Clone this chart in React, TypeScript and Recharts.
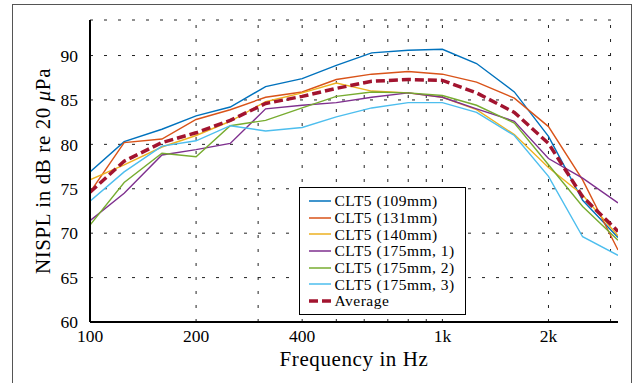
import { LineChart, Line, XAxis, YAxis, CartesianGrid, ReferenceLine } from "recharts";

// third-octave band centre frequencies (Hz)
const freqs = [100, 125, 160, 200, 250, 315, 400, 500, 630, 800, 1000, 1250, 1600, 2000, 2500, 3150];

// NISPL in dB
const clt109 = [76.9, 80.3, 81.7, 83.2, 84.2, 86.5, 87.4, 88.9, 90.3, 90.6, 90.7, 89.1, 85.9, 80.9, 73.7, 69.5];
const clt131 = [74.6, 80.2, 80.6, 82.8, 83.9, 85.3, 85.9, 87.3, 87.9, 88.2, 87.9, 87.0, 85.2, 82.0, 76.0, 68.1];
const clt140 = [76.0, 77.7, 79.7, 81.0, 82.6, 84.8, 85.8, 86.9, 86.0, 85.8, 85.3, 83.9, 81.1, 77.4, 74.3, 69.7];
const clt175a = [71.4, 74.5, 78.8, 79.4, 80.1, 84.0, 84.4, 84.7, 85.3, 85.8, 85.3, 84.0, 82.6, 78.4, 76.2, 73.4];
const clt175b = [70.9, 75.7, 79.0, 78.6, 82.1, 82.7, 84.1, 85.4, 85.9, 85.8, 85.5, 84.4, 82.4, 77.7, 73.0, 69.2];
const clt175c = [73.6, 76.9, 79.8, 80.4, 82.1, 81.5, 81.9, 83.1, 84.1, 84.7, 84.7, 83.6, 81.0, 76.4, 69.6, 67.5];
const average = [74.6, 78.1, 80.2, 81.3, 82.7, 84.6, 85.4, 86.3, 87.1, 87.3, 87.2, 85.8, 83.6, 80.1, 74.1, 70.2];

const xTicks = [100, 200, 400, 1000, 2000];
const xGrid = [200, 300, 400, 500, 600, 700, 800, 900, 1000, 2000, 3000];
const yTicks = [60, 65, 70, 75, 80, 85, 90];

const series = [
  { key: "clt109", name: "CLT5 (109mm)", color: "#0072BD", values: clt109 },
  { key: "clt131", name: "CLT5 (131mm)", color: "#D95319", values: clt131 },
  { key: "clt140", name: "CLT5 (140mm)", color: "#EDB120", values: clt140 },
  { key: "clt175a", name: "CLT5 (175mm, 1)", color: "#7E2F8E", values: clt175a },
  { key: "clt175b", name: "CLT5 (175mm, 2)", color: "#77AC30", values: clt175b },
  { key: "clt175c", name: "CLT5 (175mm, 3)", color: "#4DBEEE", values: clt175c },
  { key: "average", name: "Average", color: "#A2142F", values: average, dashed: true },
];

const data = freqs.map((f, i) => {
  const row: Record<string, number> = { f };
  series.forEach((s) => {
    row[s.key] = s.values[i];
  });
  return row;
});

const FONT = '"Liberation Serif", "DejaVu Serif", serif';
const GRID = "#222";

const fmtFreq = (v: number) => (v >= 1000 ? `${v / 1000}k` : `${v}`);

function LegendBox() {
  return (
    <div
      style={{
        position: "absolute",
        left: 299,
        top: 187,
        width: 167,
        height: 128,
        boxSizing: "border-box",
        border: "1.5px solid #000",
        background: "#fff",
        padding: "4.5px 0 0 7.5px",
        fontSize: 15.5,
        color: "#000",
      }}
    >
      {series.map((s) => (
        <div key={s.key} style={{ height: 16.7, display: "flex", alignItems: "center", whiteSpace: "nowrap", overflow: "hidden" }}>
          <svg width={26} height={8} style={{ flex: "none" }}>
            <line
              x1={1}
              y1={4}
              x2={23}
              y2={4}
              stroke={s.color}
              strokeWidth={s.dashed ? 3.5 : 1.5}
              strokeDasharray={s.dashed ? "9 4" : undefined}
            />
          </svg>
          <span style={{ marginLeft: 1, lineHeight: "15px", letterSpacing: 0.5 }}>{s.name}</span>
        </div>
      ))}
    </div>
  );
}

export default function App() {
  return (
    <div
      style={{
        position: "absolute",
        left: 0,
        top: 0,
        width: 635,
        height: 383,
        overflow: "hidden",
        background: "#fff",
        fontFamily: FONT,
      }}
    >
      <style>{`.recharts-wrapper text, .recharts-wrapper tspan { font-family: ${FONT} !important; }`}</style>
      {/* figure frame */}
      <div
        style={{
          position: "absolute",
          left: 12,
          top: 4,
          width: 620,
          height: 379,
          boxSizing: "border-box",
          borderTop: "1px solid #555",
          borderLeft: "1px solid #555",
          borderRight: "1px solid #555",
        }}
      />
      <LineChart
        width={635}
        height={383}
        data={data}
        margin={{ top: 20, right: 17, left: 30, bottom: 16 }}
        style={{ position: "absolute", left: 0, top: 0, fontFamily: FONT }}
      >
        <CartesianGrid horizontal vertical={false} stroke={GRID} strokeDasharray="3 11" />
        {xGrid.map((g) => (
          <ReferenceLine key={g} x={g} stroke={GRID} strokeDasharray="3 11" />
        ))}
        <XAxis
          dataKey="f"
          type="number"
          scale="log"
          domain={[100, 3150]}
          allowDataOverflow
          ticks={xTicks}
          interval={0}
          tickFormatter={fmtFreq}
          tickLine={false}
          tickSize={0}
          tickMargin={8}
          height={45}
          axisLine={{ stroke: "#000", strokeWidth: 2 }}
          tick={{ fill: "#000", fontSize: 17.5, fontFamily: FONT }}
          label={{
            position: "insideBottom",
            content: (props: any) => {
              const vb = props.viewBox || { x: 90, y: 322, width: 528, height: 45 };
              return (
                <text
                  x={vb.x + vb.width / 2}
                  y={366}
                  textAnchor="middle"
                  fontFamily={FONT}
                  fontSize={21}
                  letterSpacing={0.6}
                  fill="#000"
                >
                  Frequency in Hz
                </text>
              );
            },
          }}
        />
        <YAxis
          type="number"
          domain={[60, 94]}
          allowDataOverflow
          ticks={yTicks}
          interval={0}
          width={60}
          tickLine={false}
          tickSize={0}
          tickMargin={12}
          axisLine={{ stroke: "#000", strokeWidth: 2 }}
          tick={{ fill: "#000", fontSize: 17.5, fontFamily: FONT }}
          label={{
            position: "insideLeft",
            content: (props: any) => {
              const vb = props.viewBox || { x: 30, y: 20, width: 60, height: 302 };
              const cx = 43;
              const cy = vb.y + vb.height / 2;
              return (
                <text
                  x={cx}
                  y={cy}
                  transform={`rotate(-90 ${cx} ${cy})`}
                  textAnchor="middle"
                  dominantBaseline="central"
                  fontFamily={FONT}
                  fontSize={21}
                  letterSpacing={0.6}
                  fill="#000"
                >
                  NISPL in dB re 20 <tspan fontStyle="italic">μ</tspan>Pa
                </text>
              );
            },
          }}
        />
        {series.map((s) => (
          <Line
            key={s.key}
            type="linear"
            dataKey={s.key}
            name={s.name}
            stroke={s.color}
            strokeWidth={s.dashed ? 3.5 : 1.4}
            strokeDasharray={s.dashed ? "9 4" : undefined}
            dot={false}
            activeDot={false}
            isAnimationActive={false}
          />
        ))}
      </LineChart>
      <LegendBox />
    </div>
  );
}
